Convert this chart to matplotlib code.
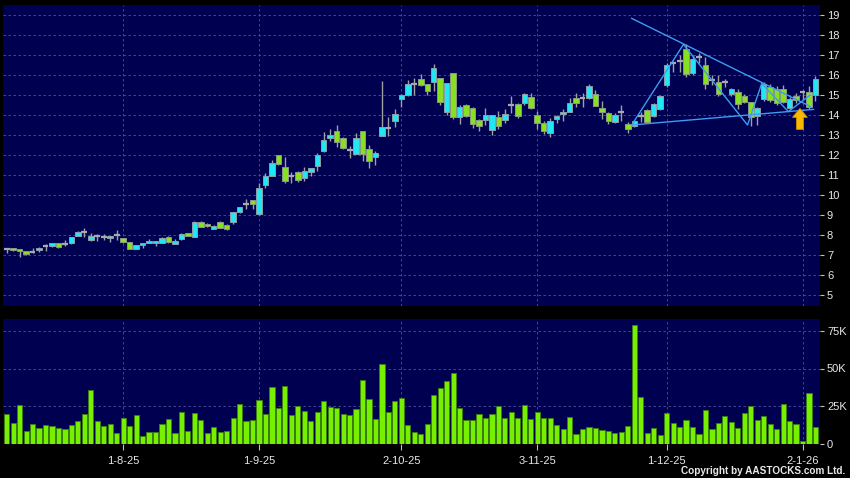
import matplotlib
matplotlib.use("Agg")
import matplotlib.pyplot as plt
from matplotlib.patches import FancyArrow
import numpy as np

# daily OHLC, Jul-2025 .. Jan-2026
opens = [7.30, 7.34, 7.30, 7.20, 7.15, 7.25, 7.46, 7.44, 7.59, 7.54,
         7.59, 7.95, 8.13, 7.74, 7.95, 7.90, 7.84, 7.98, 7.84, 7.64,
         7.30, 7.49, 7.61, 7.62, 7.62, 7.88, 7.57, 7.78, 8.08, 7.92,
         8.63, 8.55, 8.32, 8.63, 8.50, 8.63, 9.13, 9.55, 9.73, 9.03,
         10.52, 10.97, 11.98, 11.38, 10.97, 11.13, 10.83, 11.17, 11.47, 12.18,
         12.85, 13.20, 12.83, 12.27, 12.07, 13.18, 12.28, 11.88, 12.97, 13.35,
         13.72, 14.78, 14.98, 15.55, 15.78, 15.53, 15.67, 15.83, 14.17, 16.08,
         13.88, 14.50, 14.33, 13.75, 13.77, 13.23, 13.88, 13.77, 14.48, 14.53,
         14.58, 14.88, 13.98, 13.58, 13.08, 13.78, 14.03, 14.17, 14.83, 14.83,
         14.83, 15.05, 14.33, 14.08, 13.67, 14.13, 13.53, 13.47, 13.97, 14.25,
         13.95, 14.28, 15.50, 16.58, 16.72, 17.28, 16.08, 16.88, 16.48, 15.75,
         15.67, 15.67, 15.03, 15.17, 14.97, 14.63, 13.95, 14.78, 15.38, 15.28,
         15.28, 14.33, 14.95, 15.17, 15.17, 15.00]
highs = [7.36, 7.36, 7.32, 7.22, 7.34, 7.38, 7.54, 7.62, 7.62, 7.75,
         7.92, 8.20, 8.34, 8.10, 8.05, 8.05, 7.97, 8.25, 7.87, 7.67,
         7.50, 7.62, 7.80, 7.72, 7.90, 7.95, 7.78, 8.10, 8.12, 8.70,
         8.72, 8.62, 8.48, 8.68, 8.55, 9.15, 9.42, 9.78, 9.75, 10.60,
         11.10, 11.75, 12.00, 11.90, 11.17, 11.20, 11.42, 11.35, 12.10, 13.15,
         13.30, 13.50, 12.90, 12.45, 13.10, 13.20, 12.50, 12.20, 15.72, 13.92,
         14.30, 15.05, 15.75, 15.83, 16.05, 15.55, 16.55, 15.85, 15.60, 16.10,
         14.50, 14.55, 14.40, 13.80, 14.33, 14.00, 14.20, 14.30, 14.95, 14.60,
         15.10, 15.10, 14.20, 13.70, 13.85, 14.00, 14.30, 14.85, 15.10, 15.08,
         15.55, 15.25, 14.70, 14.15, 14.10, 14.50, 13.67, 13.75, 14.17, 14.30,
         14.60, 15.00, 16.60, 16.72, 17.00, 17.53, 17.00, 17.08, 16.90, 16.00,
         16.00, 15.80, 15.35, 15.30, 15.05, 14.65, 14.38, 15.65, 15.55, 15.45,
         15.50, 14.90, 15.10, 15.25, 15.45, 15.95]
lows = [7.12, 7.20, 6.90, 7.00, 7.08, 7.15, 7.18, 7.42, 7.36, 7.44,
        7.57, 7.93, 7.92, 7.70, 7.69, 7.77, 7.67, 7.77, 7.62, 7.28,
        7.28, 7.34, 7.59, 7.47, 7.60, 7.58, 7.53, 7.75, 7.93, 7.90,
        8.38, 8.40, 8.30, 8.35, 8.25, 8.55, 9.10, 9.32, 9.30, 9.00,
        10.35, 10.95, 11.50, 10.60, 10.58, 10.65, 10.70, 10.95, 11.20, 12.15,
        12.70, 12.40, 12.30, 11.87, 12.05, 11.70, 11.35, 11.50, 12.93, 12.97,
        13.40, 14.40, 14.95, 15.00, 15.45, 15.00, 15.20, 14.50, 14.00, 13.80,
        13.55, 13.90, 13.35, 13.20, 13.50, 13.00, 13.30, 13.60, 14.08, 13.85,
        14.50, 14.30, 13.30, 13.05, 12.90, 13.60, 13.72, 14.15, 14.40, 14.42,
        14.80, 14.45, 13.80, 13.55, 13.60, 13.70, 13.12, 13.40, 13.67, 13.60,
        13.90, 14.25, 15.40, 16.17, 16.17, 15.92, 16.00, 16.58, 15.28, 15.50,
        14.95, 15.40, 14.95, 14.30, 14.60, 13.45, 13.50, 14.72, 14.65, 14.50,
        14.60, 14.28, 14.60, 14.75, 14.30, 14.70]
closes = [7.30, 7.23, 7.18, 7.05, 7.15, 7.36, 7.46, 7.60, 7.39, 7.54,
          7.90, 8.15, 8.13, 7.95, 7.95, 7.90, 7.93, 7.98, 7.64, 7.30,
          7.49, 7.61, 7.72, 7.72, 7.85, 7.64, 7.68, 8.07, 7.97, 8.65,
          8.42, 8.43, 8.43, 8.37, 8.30, 9.13, 9.38, 9.55, 9.53, 10.33,
          10.95, 11.58, 11.57, 10.68, 10.97, 10.73, 11.18, 11.33, 11.98, 12.73,
          13.00, 12.67, 12.33, 12.27, 12.83, 12.03, 11.72, 12.10, 13.38, 13.35,
          14.03, 14.98, 15.53, 15.55, 15.50, 15.18, 16.33, 14.63, 15.58, 13.88,
          14.38, 13.97, 13.53, 13.47, 13.98, 13.98, 13.47, 14.07, 14.48, 13.97,
          15.07, 14.33, 13.58, 13.18, 13.70, 13.93, 14.17, 14.60, 14.62, 14.83,
          15.45, 14.47, 14.17, 13.70, 14.00, 14.13, 13.28, 13.70, 13.97, 13.67,
          14.55, 14.95, 16.48, 16.58, 16.72, 16.05, 16.78, 16.88, 15.55, 15.75,
          15.05, 15.67, 15.28, 14.53, 14.65, 13.92, 14.33, 15.55, 14.75, 14.58,
          14.67, 14.78, 14.75, 15.17, 14.38, 15.78]
# volume in thousands
volumes_k = [20, 13.8, 25.5, 8.2, 13, 10.4, 12.4, 12, 10.2, 9.5,
             12.2, 15, 19.8, 36, 15, 11.5, 13, 7.3, 17, 11.5,
             19, 5.3, 7.8, 7.8, 12.9, 16.4, 7.3, 20.7, 8.2, 20.2,
             15.8, 7.1, 10.7, 7.6, 8.4, 17.1, 26.4, 14.7, 15.6, 29,
             20, 38, 24, 38.2, 19, 24.7, 21.5, 15.1, 21.3, 28.4,
             24.2, 24, 19.8, 19.1, 22.7, 42.2, 29.6, 16.2, 52.9, 21.1,
             28.4, 30.4, 12.2, 7.6, 6.4, 13.3, 32.4, 37.3, 42, 47.1,
             23.8, 15.6, 15.6, 20, 16.9, 19.6, 24.7, 16.7, 20.7, 16.9,
             26, 16.4, 20.9, 16.9, 17.3, 12.2, 9.6, 17.8, 6.4, 9.8,
             11.3, 10.4, 8.9, 8.4, 6.9, 8, 11.8, 78.9, 30.9, 6.9,
             10.4, 5.8, 20.2, 13.6, 10.9, 15.6, 10.9, 6.2, 22.2, 10,
             13.8, 18.2, 14.2, 10.2, 20.4, 24.9, 16, 18.2, 13.1, 10,
             26.2, 14.9, 12.9, 2, 33.6, 11.3]

date_labels = ["1-8-25", "1-9-25", "2-10-25", "3-11-25", "1-12-25", "2-1-26"]
date_index = [18, 39, 61, 82, 102, 123]

price_ticks = list(range(5, 20))
vol_ticks = [0, 25000, 50000, 75000]
vol_tick_labels = ["0", "25K", "50K", "75K"]

# pattern lines (bar index, price)
zigzag_x = [96.6, 104.6, 114.5, 116.7, 120.8, 124.2]
zigzag_y = [13.5, 17.53, 13.5, 15.58, 14.17, 15.0]
upper_x = [96.6, 124.2]
upper_y = [18.83, 14.43]
lower_x = [96.6, 124.7]
lower_y = [13.5, 14.28]
arrow_x, arrow_y0, arrow_y1 = 122.6, 13.28, 14.33

NAVY = "#000050"
CYAN = "#22e6f4"
GREEN = "#88e022"
GRID = "#50509a"
TXT = "#e8e8e8"
plt.rcParams["font.family"] = ["Liberation Sans", "DejaVu Sans"]

W, H = 850, 478
fig = plt.figure(figsize=(W / 100, H / 100), dpi=100, facecolor="black")
ax = fig.add_axes([3 / W, (H - 306) / H, 817 / W, 301 / H], facecolor=NAVY)
axv = fig.add_axes([3 / W, (H - 443.5) / H, 817 / W, 124.5 / H], facecolor=NAVY)

o = np.array(opens)
hi = np.array(highs)
lo = np.array(lows)
c = np.array(closes)
x = np.arange(len(o))

ax.vlines(x, lo, hi, color="#a0a0a0", linewidth=1, zorder=2)
up = c > o
dn = c < o
flat = c == o
ax.bar(x[up], (c - o)[up], bottom=o[up], width=0.85, color=CYAN,
       edgecolor="#8aa0a8", linewidth=0.7, zorder=3)
ax.bar(x[dn], (o - c)[dn], bottom=c[dn], width=0.85, color=GREEN,
       edgecolor="#8a9a80", linewidth=0.7, zorder=3)
ax.hlines(c[flat], x[flat] - 0.45, x[flat] + 0.45, color="#a8a8b0",
          linewidth=1.6, zorder=3)

# pattern lines
lc = "#3d9cf0"
ax.plot(zigzag_x, zigzag_y, color=lc, linewidth=1, zorder=4)
ax.plot(upper_x, upper_y, color=lc, linewidth=1, zorder=4)
ax.plot(lower_x, lower_y, color=lc, linewidth=1, zorder=4)
ax.add_patch(FancyArrow(arrow_x, arrow_y0, 0, arrow_y1 - arrow_y0,
                        width=1.1, head_width=2.3, head_length=0.45,
                        length_includes_head=True, facecolor="#f7b800",
                        edgecolor="#d08a00", linewidth=0.6, zorder=5))

axv.bar(x, np.array(volumes_k) * 1000, width=0.8, color="#77f000",
        edgecolor="#3a8010", linewidth=0.6, zorder=3)

xlim = (-0.57, 125.7)
for a in (ax, axv):
    a.set_xlim(*xlim)
    for s in a.spines.values():
        s.set_visible(False)
    a.set_xticks(date_index)
    a.grid(True, color=GRID, linestyle=(0, (3, 3)), linewidth=0.6, zorder=0)
    a.set_axisbelow(True)
    a.yaxis.tick_right()
    a.tick_params(axis="y", colors="#c0c0c0", labelcolor=TXT, length=3,
                  width=0.8, pad=2, labelsize=8, direction="out")

ax.set_ylim(4.45, 19.5)
ax.set_yticks(price_ticks)
ax.set_yticklabels([str(t) for t in price_ticks])
ax.tick_params(axis="x", length=0, labelbottom=False)

axv.set_ylim(0, 83000)
axv.set_yticks(vol_ticks)
axv.set_yticklabels(vol_tick_labels)
axv.set_xticklabels(date_labels)
axv.tick_params(axis="x", colors="#c0c0c0", labelcolor=TXT, length=4,
                width=0.8, pad=5, labelsize=8, direction="out")

fig.text(845 / W, 1 - 471 / H, "Copyright by AASTOCKS.com Ltd.", color=TXT,
         fontsize=7.2, fontweight="bold", ha="right", va="center")

fig.savefig("out.png", dpi=100, facecolor="black")
